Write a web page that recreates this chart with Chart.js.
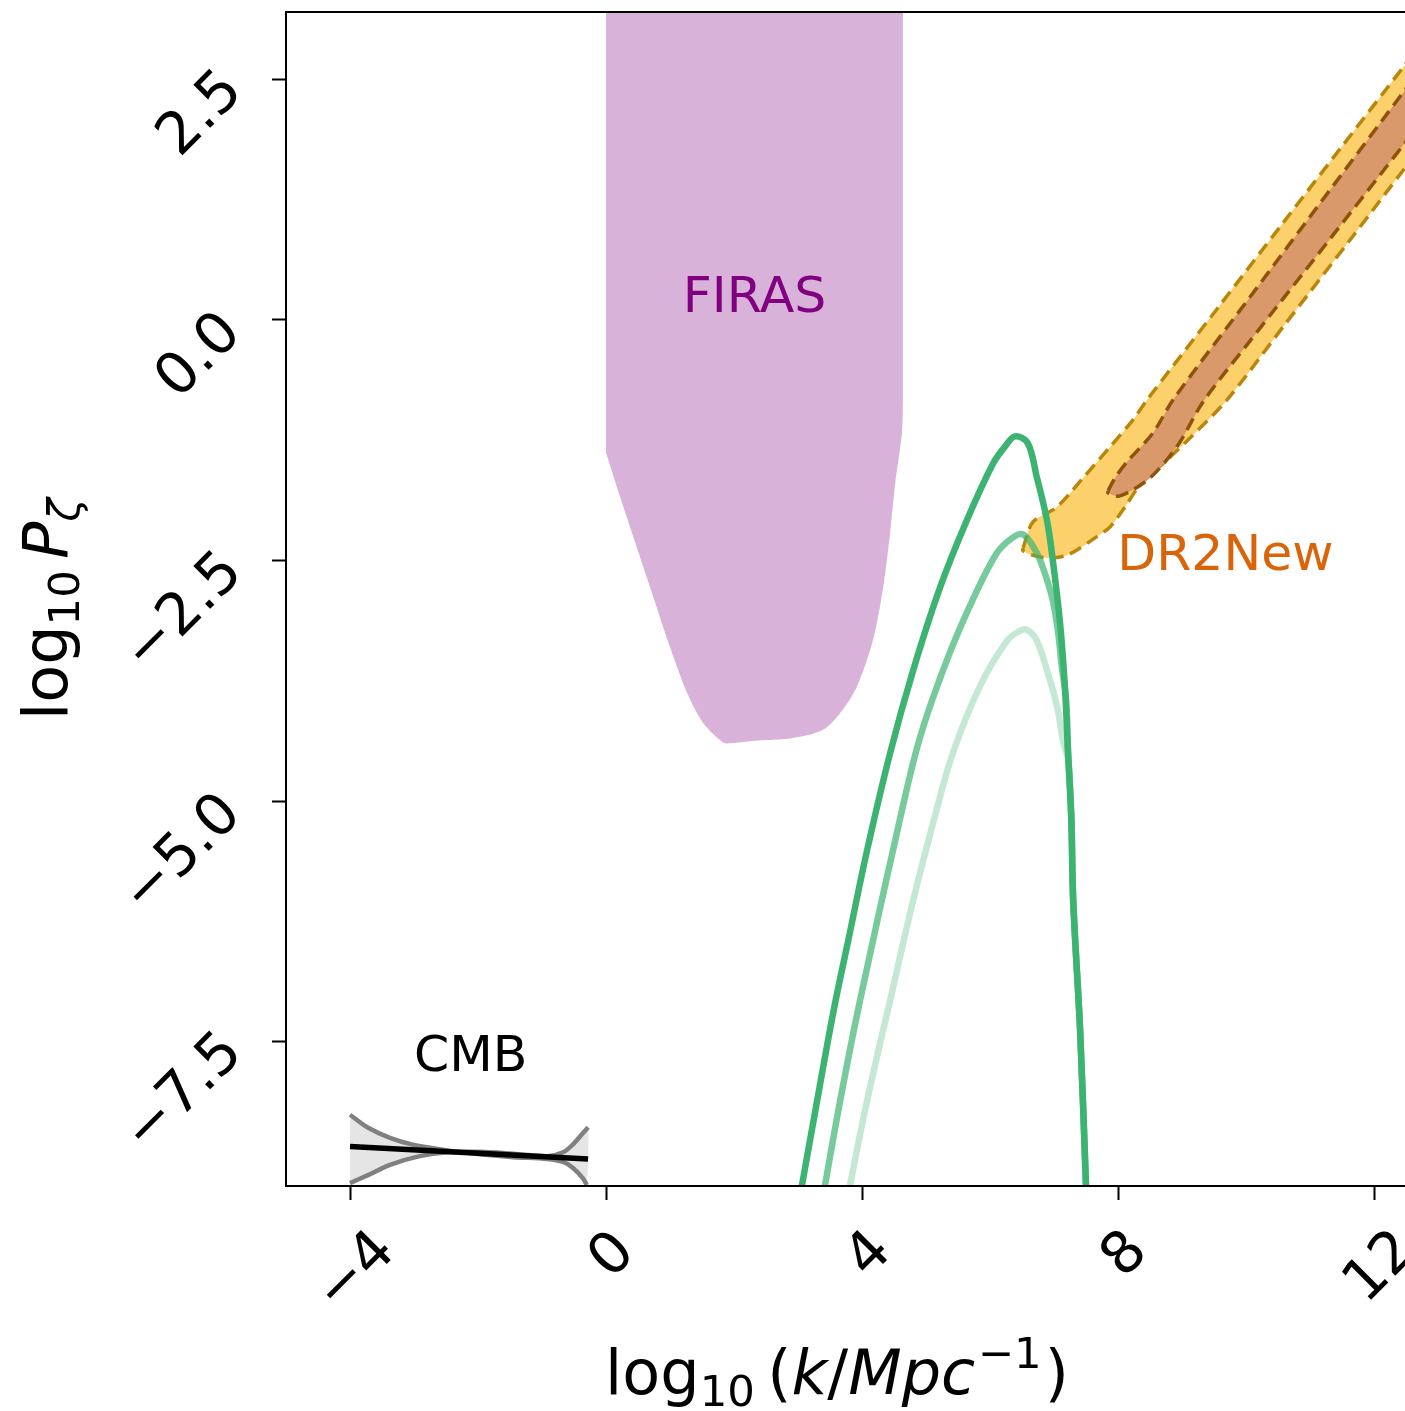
<!DOCTYPE html>
<html><head><meta charset="utf-8">
<script src="https://cdn.jsdelivr.net/npm/chart.js@4"></script>
<style>html,body{margin:0;padding:0;overflow:hidden;background:#fff}</style>
</head><body>
<canvas id="c" width="1406" height="1411" style="display:block;width:1406px;height:1411px"></canvas>
<script>
// ---------- tick values ----------
const xTicks = [-4, 0, 4, 8, 12];
const yTicks = [-7.5, -5, -2.5, 0, 2.5];

// ---------- FIRAS excluded region: lower boundary, filled up to the top ----------
const firasX = [0, 0.27, 0.69, 1.0, 1.27, 1.52, 1.83, 1.94, 2.36, 2.875, 3.39, 3.70, 3.92, 4.17, 4.33, 4.44, 4.52, 4.625, 4.64];
const firasY = [-1.38, -1.94, -2.78, -3.40, -3.88, -4.19, -4.39, -4.40, -4.37, -4.35, -4.26, -4.05, -3.81, -3.33, -2.78, -2.21, -1.69, -1.17, -0.83];

// ---------- green peaked spectra ----------
const gDarkX = [2.98, 3.06, 3.30, 3.55, 3.81, 4.08, 4.44, 4.80, 5.22, 5.64, 6.05, 6.23, 6.39, 6.59, 6.73, 6.89, 6.98, 7.09, 7.17, 7.22, 7.27, 7.30, 7.41, 7.50, 7.52];
const gDarkY = [-9.3, -9.0, -8.11, -7.20, -6.37, -5.51, -4.50, -3.64, -2.78, -2.08, -1.49, -1.32, -1.21, -1.28, -1.63, -2.08, -2.49, -3.12, -3.81, -4.50, -5.17, -6.03, -7.41, -9.0, -9.3];
const gMidX = [3.34, 3.42, 3.66, 3.97, 4.63, 4.91, 5.33, 5.73, 6.11, 6.36, 6.52, 6.73, 6.89, 6.98, 7.06, 7.12, 7.19, 7.22, 7.27, 7.30, 7.41, 7.50, 7.52];
const gMidY = [-9.3, -9.0, -8.11, -7.07, -5.08, -4.33, -3.53, -2.91, -2.42, -2.26, -2.23, -2.42, -2.70, -2.91, -3.22, -3.59, -3.95, -4.50, -5.17, -6.03, -7.41, -9.0, -9.3];
const gLightX = [3.72, 3.81, 4.08, 4.44, 4.80, 5.17, 5.42, 5.84, 6.27, 6.47, 6.58, 6.73, 6.89, 7.05, 7.14, 7.23, 7.27, 7.30, 7.41, 7.50, 7.52];
const gLightY = [-9.3, -9.0, -8.11, -7.07, -6.03, -5.08, -4.50, -3.81, -3.33, -3.23, -3.22, -3.33, -3.64, -4.02, -4.37, -4.60, -5.17, -6.03, -7.41, -9.0, -9.3];

// ---------- DR2New bands (outer = wide, inner = narrow) ----------
const dr2OuterUpX = [6.516, 6.672, 7.047, 7.453, 7.875, 8.234, 8.453, 9.547, 10.578, 11.469, 12.484, 13.031];
const dr2OuterUpY = [-2.369, -2.099, -1.943, -1.642, -1.320, -1.039, -0.831, 0.114, 1.008, 1.777, 2.650, 3.118];
const dr2OuterLoX = [6.516, 6.703, 6.938, 7.172, 7.359, 7.641, 7.875, 8.109, 8.344, 8.766, 9.125, 9.703, 10.578, 11.625, 12.484, 13.031];
const dr2OuterLoY = [-2.400, -2.452, -2.473, -2.452, -2.390, -2.265, -2.151, -1.943, -1.715, -1.455, -1.226, -0.831, -0.073, 0.831, 1.580, 2.058];
const dr2InnerUpX = [7.844, 7.953, 8.141, 8.547, 8.859, 10.063, 11.313, 12.484, 13.031];
const dr2InnerUpY = [-1.777, -1.642, -1.476, -1.174, -0.831, 0.239, 1.351, 2.390, 2.879];
const dr2InnerLoX = [7.844, 8.031, 8.500, 8.938, 9.328, 10.063, 11.313, 12.484, 13.031];
const dr2InnerLoY = [-1.798, -1.829, -1.642, -1.299, -0.852, -0.218, 0.842, 1.839, 2.307];

// ---------- CMB ----------
const cmbAX = [-4.0, -3.73, -3.375, -3.02, -2.48, -1.97, -1.45, -0.92, -0.67, -0.52, -0.36, -0.30];
const cmbAY = [-8.26, -8.39, -8.50, -8.57, -8.63, -8.67, -8.70, -8.72, -8.75, -8.81, -8.92, -8.99];
const cmbBX = [-4.0, -3.73, -3.375, -2.91, -2.48, -1.97, -1.45, -0.92, -0.67, -0.52, -0.36, -0.28];
const cmbBY = [-8.97, -8.89, -8.78, -8.69, -8.65, -8.645, -8.665, -8.69, -8.65, -8.57, -8.45, -8.39];
const cmbLineX = [-4.0, -0.28];
const cmbLineY = [-8.59, -8.72];

// ---------- text annotations (data coords) ----------
const labelText = ['FIRAS', 'DR2New', 'CMB'];
const labelX = [1.2, 7.99, -3.0];
const labelY = [0.08, -2.6, -7.8];
const labelColor = ['#800080', '#d9640a', '#000000'];

// ---------- helpers ----------
const pts = (xs, ys) => xs.map((x, i) => ({x: x, y: ys[i]}));
function polygon(upX, upY, loX, loY) {
  const up = pts(upX, upY);
  const lo = pts(loX, loY).reverse();
  return up.concat(lo, [up[0]]);
}
const FONT = '"DejaVu Sans", sans-serif';

const base = {pointRadius: 0, pointHoverRadius: 0, clip: 0, borderCapStyle: 'butt', borderJoinStyle: 'round'};

const datasets = [
  Object.assign({}, base, {label: 'FIRAS', data: pts(firasX, firasY), fill: 'end', backgroundColor: 'rgba(128,0,128,0.3)', borderWidth: 0, borderColor: 'rgba(0,0,0,0)', tension: 0.3, order: 10}),
  Object.assign({}, base, {label: 'CMB band', data: pts(cmbAX, cmbAY).concat(pts(cmbBX, cmbBY).reverse()), fill: 'shape', backgroundColor: 'rgba(211,211,211,0.6)', borderWidth: 0, borderColor: 'rgba(0,0,0,0)', tension: 0.3, order: 9}),
  Object.assign({}, base, {label: 'CMB upper', data: pts(cmbAX, cmbAY), fill: false, borderColor: '#808080', borderWidth: 4.5, tension: 0.3, order: 8}),
  Object.assign({}, base, {label: 'CMB lower', data: pts(cmbBX, cmbBY), fill: false, borderColor: '#808080', borderWidth: 4.5, tension: 0.3, order: 8}),
  Object.assign({}, base, {label: 'CMB', data: pts(cmbLineX, cmbLineY), fill: false, borderColor: '#000000', borderWidth: 5.5, order: 7}),
  Object.assign({}, base, {label: 'DR2New outer', data: polygon(dr2OuterUpX, dr2OuterUpY, dr2OuterLoX, dr2OuterLoY), fill: 'shape', backgroundColor: '#fcd06b', borderColor: '#b8860b', borderWidth: 3.5, borderDash: [13, 7], tension: 0.3, order: 6}),
  Object.assign({}, base, {label: 'DR2New inner', data: polygon(dr2InnerUpX, dr2InnerUpY, dr2InnerLoX, dr2InnerLoY), fill: 'shape', backgroundColor: '#d9996a', borderColor: '#8f520c', borderWidth: 3.5, borderDash: [13, 7], tension: 0.3, order: 5}),
  Object.assign({}, base, {label: 'light', data: pts(gLightX, gLightY), fill: false, borderColor: 'rgba(60,179,113,0.3)', borderWidth: 6.5, tension: 0.35, order: 3}),
  Object.assign({}, base, {label: 'mid', data: pts(gMidX, gMidY), fill: false, borderColor: 'rgba(60,179,113,0.7)', borderWidth: 6.5, tension: 0.35, order: 2}),
  Object.assign({}, base, {label: 'dark', data: pts(gDarkX, gDarkY), fill: false, borderColor: 'rgb(60,179,113)', borderWidth: 6.5, tension: 0.35, order: 1})
];

function richMeasure(ctx, parts, size) {
  let w = 0;
  for (const p of parts) {
    ctx.font = (p.it ? 'italic ' : '') + (size * (p.sc || 1)) + 'px ' + FONT;
    p._w = ctx.measureText(p.t).width;
    w += p._w + (p.gap || 0) * size;
  }
  return w;
}
function richDraw(ctx, parts, size, x, y) {
  for (const p of parts) {
    ctx.font = (p.it ? 'italic ' : '') + (size * (p.sc || 1)) + 'px ' + FONT;
    ctx.fillText(p.t, x, y + (p.dy || 0) * size);
    x += p._w + (p.gap || 0) * size;
  }
}
function drawRot(ctx, text, mode, px, py) {
  const m = ctx.measureText(text);
  const l = m.actualBoundingBoxLeft, r = m.actualBoundingBoxRight;
  const a = m.actualBoundingBoxAscent, d = m.actualBoundingBoxDescent;
  const k = Math.SQRT1_2;
  let ax, ay;
  if (mode === 'x') { ax = px - k * ((r + d) - (l + a)) / 2; ay = py + k * (r + a); }
  else { ax = px - k * (r + d); ay = py + k * (r + a); }
  ctx.save();
  ctx.translate(ax, ay);
  ctx.rotate(-Math.PI / 4);
  ctx.fillText(text, 0, 0);
  ctx.restore();
}

const decor = {
  id: 'decor',
  afterDatasetsDraw(chart) {
    const ctx = chart.ctx, ca = chart.chartArea;
    const xs = chart.scales.x, ys = chart.scales.y;
    ctx.save();
    ctx.font = '50.5px ' + FONT;
    ctx.textAlign = 'left';
    ctx.textBaseline = 'alphabetic';
    labelText.forEach((t, i) => {
      ctx.fillStyle = labelColor[i];
      ctx.fillText(t, xs.getPixelForValue(labelX[i]), ys.getPixelForValue(labelY[i]));
    });
    ctx.strokeStyle = '#000';
    ctx.lineWidth = 2;
    ctx.strokeRect(ca.left, ca.top, ca.right - ca.left, ca.bottom - ca.top);
    ctx.restore();
  },
  afterDraw(chart) {
    const ctx = chart.ctx, ca = chart.chartArea;
    const xs = chart.scales.x, ys = chart.scales.y;
    ctx.save();
    ctx.fillStyle = '#000';
    ctx.font = '58px ' + FONT;
    ctx.textAlign = 'left';
    ctx.textBaseline = 'alphabetic';
    xTicks.forEach(v => {
      const t = (v < 0 ? '\u2212' : '') + Math.abs(v);
      drawRot(ctx, t, 'x', xs.getPixelForValue(v) + 3, ca.bottom + 39);
    });
    yTicks.forEach(v => {
      const t = (v < 0 ? '\u2212' : '') + Math.abs(v).toFixed(1);
      drawRot(ctx, t, 'y', ca.left - 44, ys.getPixelForValue(v) - 14);
    });
    const size = 62;
    const xParts = [{t: 'log'}, {t: '10', sc: 0.7, dy: 0.2, gap: 0.2}, {t: '('}, {t: 'k', it: 1}, {t: '/'}, {t: 'Mpc', it: 1, gap: 0.04}, {t: '\u22121', sc: 0.7, dy: -0.42, gap: 0.05}, {t: ')'}];
    const wx = richMeasure(ctx, xParts, size);
    richDraw(ctx, xParts, size, 837 - wx / 2, ca.bottom + 208);
    const yParts = [{t: 'log'}, {t: '10', sc: 0.7, dy: 0.2, gap: 0.18}, {t: 'P', it: 1}, {t: '\u03b6', it: 1, sc: 0.7, dy: 0.2}];
    const wy = richMeasure(ctx, yParts, size);
    ctx.translate(67, (ca.top + ca.bottom) / 2 + 10);
    ctx.rotate(-Math.PI / 2);
    richDraw(ctx, yParts, size, -wy / 2, 0);
    ctx.restore();
  }
};

new Chart(document.getElementById('c'), {
  type: 'line',
  data: {datasets: datasets},
  plugins: [decor],
  options: {
    responsive: false,
    animation: false,
    events: [],
    layout: {padding: {top: 12, left: 0, right: 0, bottom: 0}},
    plugins: {legend: {display: false}, tooltip: {enabled: false}},
    scales: {
      x: {
        type: 'linear', min: -5, max: 12.5,
        afterBuildTicks: s => { s.ticks = xTicks.map(v => ({value: v})); },
        afterFit: s => { s.height = 225; },
        ticks: {display: false},
        grid: {display: true, drawOnChartArea: false, drawTicks: true, tickLength: 14, tickWidth: 2, tickColor: '#000'},
        border: {display: false}
      },
      y: {
        type: 'linear', min: -9, max: 3.2,
        afterBuildTicks: s => { s.ticks = yTicks.map(v => ({value: v})); },
        afterFit: s => { s.width = 286; },
        ticks: {display: false},
        grid: {display: true, drawOnChartArea: false, drawTicks: true, tickLength: 14, tickWidth: 2, tickColor: '#000'},
        border: {display: false}
      }
    }
  }
});
</script>
</body></html>
